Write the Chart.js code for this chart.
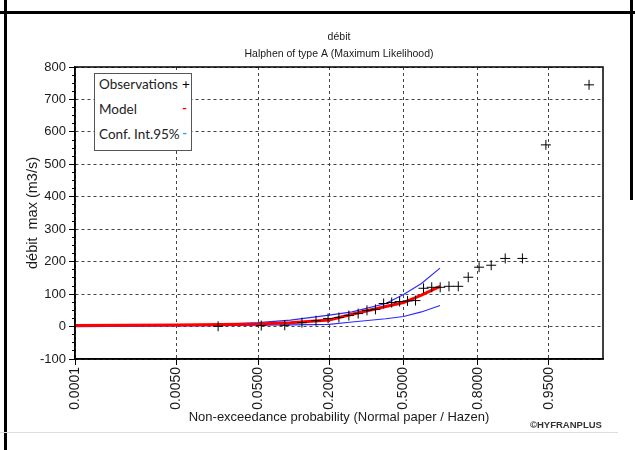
<!DOCTYPE html>
<html>
<head>
<meta charset="utf-8">
<script src="https://cdn.jsdelivr.net/npm/chart.js@4.4.1/dist/chart.umd.min.js"></script>
<style>
  body { margin: 0; background: #fff; }
  #wrap { position: relative; width: 635px; height: 450px; overflow: hidden; }
  .rule { position: absolute; background: #000; }
  #legendBox {
    position: absolute; left: 94px; top: 73px; width: 96px; height: 76px;
    background: #fff; border: 1px solid #555;
    font-family: Lato, "Noto Sans", sans-serif; font-size: 13.5px; color: #222;
  }
  #legendBox div { position: absolute; left: 4px; }
  #legendBox span { position: absolute; left: 87px; }
  #copy {
    position: absolute; left: 530px; top: 419px;
    font-family: "Liberation Sans", Arial, sans-serif; font-size: 9.5px; font-weight: bold; color: #333;
  }
</style>
</head>
<body>
<div id="wrap">
  <canvas id="chart" width="635" height="450"></canvas>
  <div class="rule" style="left:0;top:11px;width:635px;height:3px"></div>
  <div class="rule" style="left:4px;top:0;width:3px;height:450px"></div>
  <div class="rule" style="left:630px;top:0;width:3px;height:200px"></div>
  <div class="rule" style="left:0;top:432px;width:618px;height:1px;background:#ddd"></div>
  <div id="legendBox">
    <div style="top:2px">Observations</div><span style="top:2px;color:#000">+</span>
    <div style="top:27px">Model</div><span style="top:26px;color:#f00;font-weight:bold">-</span>
    <div style="top:52px">Conf. Int.95%</div><span style="top:51px;color:#29abe2;font-weight:bold">-</span>
  </div>
  <div id="copy">©HYFRANPLUS</div>
</div>
<script>
// x axis ticks (non-exceedance probability on normal paper)
const xTickProbs = [0.0001, 0.005, 0.05, 0.2, 0.5, 0.8, 0.95];
const xTickLabels = ['0.0001', '0.0050', '0.0500', '0.2000', '0.5000', '0.8000', '0.9500'];
const xMinProb = 0.0001;
const xMaxProb = 0.988;

// observations (Hazen plotting positions)
const obsProb = [0.0179, 0.0536, 0.0893, 0.1250, 0.1607, 0.1964, 0.2321, 0.2679, 0.3036, 0.3393,
  0.3750, 0.4107, 0.4464, 0.4821, 0.5179, 0.5536, 0.5893, 0.6250, 0.6607, 0.6964,
  0.7321, 0.7679, 0.8036, 0.8393, 0.8750, 0.9107, 0.9464, 0.9821];
const obsFlow = [1, 3, 4, 12, 18, 25, 28, 34, 40, 50,
  53, 71, 74, 77, 79, 80, 118, 121, 121, 124,
  124, 152, 183, 189, 210, 210, 560, 745];

// fitted model and 95% confidence interval
const modelProb = [0.0001, 0.005, 0.02, 0.05, 0.1, 0.2, 0.28, 0.42, 0.5, 0.58, 0.66];
const modelFlow = [3, 5, 6, 8, 12, 20, 38, 62, 74, 97, 124];
const upperFlow = [1, 4, 7, 12, 20, 35, 45, 71, 99, 133, 180];
const lowerFlow = [0, 2, 3, 4, 5, 7, 14, 24, 31, 45, 65];

const titleText = 'débit';
const subtitleText = 'Halphen of type A (Maximum Likelihood)';

// inverse normal CDF (Acklam) to place probabilities on normal paper
function probit(p) {
  const a = [-3.969683028665376e+01, 2.209460984245205e+02, -2.759285104469687e+02, 1.383577518672690e+02, -3.066479806614716e+01, 2.506628277459239e+00];
  const b = [-5.447609879822406e+01, 1.615858368580409e+02, -1.556989798598866e+02, 6.680131188771972e+01, -1.328068155288572e+01];
  const c = [-7.784894002430293e-03, -3.223964580411365e-01, -2.400758277161838e+00, -2.549732539343734e+00, 4.374664141464968e+00, 2.938163982698783e+00];
  const d = [7.784695709041462e-03, 3.224671290700398e-01, 2.445134137142996e+00, 3.754408661907416e+00];
  const pl = 0.02425;
  let q, r;
  if (p < pl) {
    q = Math.sqrt(-2 * Math.log(p));
    return (((((c[0]*q+c[1])*q+c[2])*q+c[3])*q+c[4])*q+c[5]) / ((((d[0]*q+d[1])*q+d[2])*q+d[3])*q+1);
  }
  if (p <= 1 - pl) {
    q = p - 0.5; r = q * q;
    return (((((a[0]*r+a[1])*r+a[2])*r+a[3])*r+a[4])*r+a[5])*q / (((((b[0]*r+b[1])*r+b[2])*r+b[3])*r+b[4])*r+1);
  }
  q = Math.sqrt(-2 * Math.log(1 - p));
  return -(((((c[0]*q+c[1])*q+c[2])*q+c[3])*q+c[4])*q+c[5]) / ((((d[0]*q+d[1])*q+d[2])*q+d[3])*q+1);
}

const toPoints = (probs, vals) => probs.map((p, i) => ({x: probit(p), y: vals[i]}));

const sans = '"Liberation Sans", Arial, sans-serif';
const txt = '#1a1a1a';

// plot frame + titles centred over the plot area
const frame = {
  id: 'frame',
  afterDraw(chart) {
    const {ctx, chartArea: a} = chart;
    ctx.save();
    ctx.strokeStyle = '#000';
    ctx.lineWidth = 1.5;
    ctx.strokeRect(a.left, a.top, a.right - a.left, a.bottom - a.top);
    ctx.fillStyle = txt;
    ctx.textAlign = 'center';
    ctx.textBaseline = 'middle';
    ctx.font = '10.5px ' + sans;
    const cx = (a.left + a.right) / 2;
    ctx.fillText(titleText, cx, a.top - 30);
    ctx.fillText(subtitleText, cx, a.top - 13);
    ctx.restore();
  }
};

new Chart(document.getElementById('chart'), {
  type: 'scatter',
  data: {
    datasets: [
      {
        data: toPoints(obsProb, obsFlow),
        pointStyle: 'cross', pointRadius: 5, borderColor: '#000', borderWidth: 1,
        backgroundColor: '#000', showLine: false, order: 1
      },
      {
        data: toPoints(modelProb, modelFlow), showLine: true, borderColor: '#f00',
        borderWidth: 3, pointRadius: 0, tension: 0, order: 2
      },
      {
        data: toPoints(modelProb, upperFlow), showLine: true, borderColor: '#2a2aff',
        borderWidth: 1.2, pointRadius: 0, tension: 0, order: 3
      },
      {
        data: toPoints(modelProb, lowerFlow), showLine: true, borderColor: '#2a2aff',
        borderWidth: 1.2, pointRadius: 0, tension: 0, order: 3
      }
    ]
  },
  options: {
    responsive: false,
    animation: false,
    devicePixelRatio: 1,
    layout: {padding: {left: 8, right: 32, top: 67, bottom: 0}},
    plugins: {
      legend: {display: false},
      tooltip: {enabled: false}
    },
    scales: {
      x: {
        type: 'linear',
        min: probit(xMinProb),
        max: probit(xMaxProb),
        afterBuildTicks: (scale) => { scale.ticks = xTickProbs.map((p) => ({value: probit(p)})); },
        afterFit: (scale) => { scale.height = 91; },
        ticks: {
          autoSkip: false, minRotation: 90, maxRotation: 90, padding: 2, color: txt,
          font: {family: sans, size: 14},
          callback: (v, i) => xTickLabels[i]
        },
        grid: {color: '#444', tickColor: '#000', tickLength: 6, lineWidth: 1},
        border: {color: '#000', width: 1.5, dash: [3, 3]},
        title: {
          display: true, text: 'Non-exceedance probability (Normal paper / Hazen)', color: txt,
          font: {family: sans, size: 13}, padding: {top: 0, bottom: 25}
        }
      },
      y: {
        min: -100, max: 800,
        afterFit: (scale) => { scale.width = 67; },
        ticks: {stepSize: 100, padding: 3, color: txt, font: {family: sans, size: 13}},
        grid: {color: '#444', tickColor: '#000', tickLength: 6, lineWidth: 1},
        border: {color: '#000', width: 1.5, dash: [3, 3]},
        title: {
          display: true, text: 'débit  max (m3/s)', color: txt,
          font: {family: sans, size: 14.5}, padding: {top: 16, bottom: 0}
        }
      },
      ym: {
        position: 'left', weight: -1, min: -100, max: 800,
        afterFit: (scale) => { scale.width = 0; },
        ticks: {stepSize: 25, display: false},
        grid: {drawOnChartArea: false, tickColor: '#000', tickLength: 3},
        border: {display: false}
      }
    }
  },
  plugins: [frame]
});
</script>
</body>
</html>
